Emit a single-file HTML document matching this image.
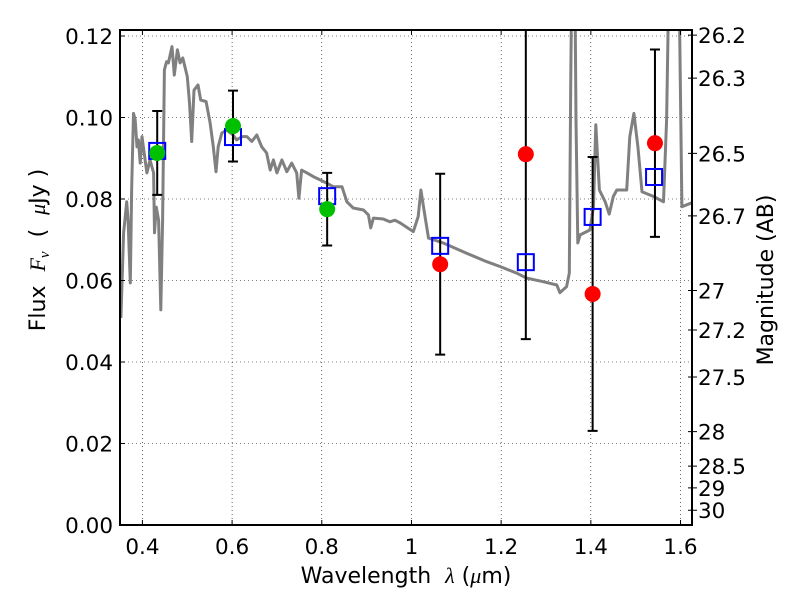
<!DOCTYPE html>
<html><head><meta charset="utf-8"><style>
html,body{margin:0;padding:0;background:#fff;}
svg{display:block;font-family:"DejaVu Sans","Liberation Sans",sans-serif;}
text{white-space:pre;}
</style></head><body>
<svg id="chart" width="800" height="600" viewBox="0 0 800 600" xmlns="http://www.w3.org/2000/svg">
<rect x="0" y="0" width="800" height="600" fill="#fff"/>
<defs><clipPath id="plotclip"><rect x="120" y="30" width="572" height="495"/></clipPath></defs>
<g id="grid"></g>
<g id="series" clip-path="url(#plotclip)"></g>
<g id="axes"></g>
</svg>
<script>
const xTicks=[0.4,0.6,0.8,1.0,1.2,1.4,1.6];
const xTickLabels=["0.4","0.6","0.8","1","1.2","1.4","1.6"];
const yTicks=[0,0.02,0.04,0.06,0.08,0.10,0.12];
const yTickLabels=["0.00","0.02","0.04","0.06","0.08","0.10","0.12"];
const magTicks=[26.2,26.3,26.5,26.7,27,27.2,27.5,28,28.5,29,30];
const magTickLabels=["26.2","26.3","26.5","26.7","27","27.2","27.5","28","28.5","29","30"];
const specWave=[0.352,0.358,0.361,0.365,0.368,0.373,0.376,0.380,0.384,0.388,0.391,0.395,0.399,0.406,0.410,0.417,0.425,0.427,0.431,0.436,0.441,0.445,0.449,0.454,0.458,0.466,0.471,0.478,0.484,0.490,0.500,0.505,0.510,0.515,0.524,0.530,0.542,0.551,0.558,0.564,0.569,0.577,0.588,0.602,0.610,0.622,0.633,0.644,0.655,0.666,0.677,0.685,0.692,0.700,0.711,0.722,0.733,0.744,0.749,0.755,0.767,0.781,0.796,0.811,0.826,0.845,0.856,0.870,0.893,0.904,0.909,0.915,0.937,0.952,0.963,0.975,1.004,1.015,1.021,1.028,1.038,1.071,1.123,1.168,1.198,1.235,1.257,1.294,1.324,1.331,1.346,1.352,1.355,1.358,1.364,1.367,1.371,1.376,1.398,1.406,1.411,1.419,1.432,1.441,1.450,1.458,1.469,1.480,1.487,1.496,1.505,1.514,1.540,1.562,1.569,1.575,1.596,1.603,1.626];
const specFlux=[0.0508,0.0717,0.0748,0.0793,0.0748,0.0594,0.0830,0.1010,0.0994,0.0928,0.0945,0.0888,0.0953,0.0896,0.0864,0.0896,0.0864,0.0717,0.0780,0.0748,0.0528,0.0748,0.1117,0.1137,0.1134,0.1174,0.1104,0.1166,0.1134,0.1146,0.1100,0.1036,0.0941,0.1067,0.1080,0.1043,0.1039,0.0987,0.0928,0.0867,0.0928,0.0962,0.0969,0.0957,0.0945,0.0953,0.0953,0.0941,0.0957,0.0928,0.0913,0.0871,0.0896,0.0864,0.0896,0.0867,0.0888,0.0864,0.0802,0.0871,0.0864,0.0855,0.0847,0.0839,0.0830,0.0830,0.0793,0.0778,0.0773,0.0761,0.0729,0.0753,0.0751,0.0744,0.0748,0.0741,0.0720,0.0757,0.0822,0.0773,0.0704,0.0692,0.0667,0.0646,0.0634,0.0618,0.0606,0.0597,0.0589,0.0570,0.0585,0.0618,0.1076,0.14,0.14,0.0994,0.0692,0.0712,0.0724,0.0781,0.0982,0.0822,0.0793,0.0763,0.0806,0.0822,0.0822,0.0822,0.0953,0.1010,0.0928,0.0818,0.0806,0.0793,0.0994,0.14,0.14,0.0781,0.0791];
const modelWave=[0.433,0.602,0.812,1.064,1.255,1.404,1.541];
const modelFlux=[0.0918,0.0952,0.0807,0.0685,0.0645,0.0756,0.0854];
const detWave=[0.433,0.602,0.812];
const detFlux=[0.0913,0.0979,0.0775];
const detErr=[0.0103,0.0087,0.0089];
const ndWave=[1.064,1.255,1.404,1.543];
const ndFlux=[0.0640,0.0910,0.0567,0.0937];
const ndErr=[0.0222,0.0454,0.0336,0.0230];

const NS="http://www.w3.org/2000/svg";
const L=120,R=692,T=30,B=525,XMIN=0.35,XMAX=1.6256,YMIN=0,YMAX=0.12147;
function xs(v){return L+(v-XMIN)/(XMAX-XMIN)*(R-L);}
function ys(v){return B-(v-YMIN)/(YMAX-YMIN)*(B-T);}
function mag2flux(m){return Math.pow(10,(23.9-m)/2.5);}
function mk(tag,attrs,parent){const e=document.createElementNS(NS,tag);for(const k in attrs)e.setAttribute(k,attrs[k]);parent.appendChild(e);return e;}
const grid=document.getElementById('grid'),series=document.getElementById('series'),axes=document.getElementById('axes');

xTicks.forEach((t,i)=>{
  const g=mk('line',{x1:xs(t),x2:xs(t),y1:T,y2:B,stroke:'#000','stroke-width':0.6,'stroke-dasharray':'1,3'},grid);
  
  
  const tk=mk('path',{d:`M${xs(t)},${B}v-5M${xs(t)},${T}v5`,stroke:'#000','stroke-width':1},axes);
  
  
  const lb=mk('text',{x:xs(t),y:B+29,'text-anchor':'middle','font-size':21.5,fill:'#000'},axes);
  lb.textContent=xTickLabels[i];
  
  
});
yTicks.forEach((t,i)=>{
  const g=mk('line',{x1:L,x2:R,y1:ys(t),y2:ys(t),stroke:'#000','stroke-width':0.6,'stroke-dasharray':'1,3'},grid);
  
  
  const tk=mk('path',{d:`M${L},${ys(t)}h5`,stroke:'#000','stroke-width':1},axes);
  
  
  const lb=mk('text',{x:L-7,y:ys(t)+8,'text-anchor':'end','font-size':21.5,fill:'#000'},axes);
  lb.textContent=yTickLabels[i];
  
  
});
magTicks.forEach((m,i)=>{
  const y=ys(mag2flux(m));
  const tk=mk('path',{d:`M${R},${y}h5M${R},${y}h-4`,stroke:'#000','stroke-width':1},axes);
  
  
  const lb=mk('text',{x:R+6,y:y+8,'text-anchor':'start','font-size':21.5,fill:'#000'},axes);
  lb.textContent=magTickLabels[i];
  
  
});

let d='';
specWave.forEach((w,i)=>{d+=(i?'L':'M')+xs(w).toFixed(1)+','+ys(specFlux[i]).toFixed(1);});
const sp=mk('path',{d:d,fill:'none',stroke:'#808080','stroke-width':3,'stroke-linejoin':'round'},series);



function errbar(w,f,e){
  const x=xs(w),y1=ys(f+e),y2=ys(f-e);
  const p=mk('path',{d:`M${x},${y1}V${y2}M${x-5},${y1}h10M${x-5},${y2}h10`,stroke:'#000','stroke-width':2},series);
  
  
}
detWave.forEach((w,i)=>errbar(w,detFlux[i],detErr[i]));
ndWave.forEach((w,i)=>errbar(w,ndFlux[i],ndErr[i]));
modelWave.forEach((w,i)=>{
  const r=mk('rect',{x:xs(w)-8,y:ys(modelFlux[i])-8,width:16,height:16,fill:'none',stroke:'#0000ff','stroke-width':2},series);
  
  
});
detWave.forEach((w,i)=>{
  const c=mk('circle',{cx:xs(w),cy:ys(detFlux[i]),r:8,fill:'#00c000'},series);
  
  
});
ndWave.forEach((w,i)=>{
  const c=mk('circle',{cx:xs(w),cy:ys(ndFlux[i]),r:8,fill:'#ff0000'},series);
  
  
});

const fr=mk('rect',{x:L,y:T,width:R-L,height:B-T,fill:'none',stroke:'#000','stroke-width':2},axes);


const xl=mk('text',{x:(L+R)/2,y:583,'text-anchor':'middle','font-size':22,fill:'#000'},axes);
xl.innerHTML='Wavelength  <tspan font-style="italic" font-family="Liberation Serif, serif">λ</tspan> (<tspan font-style="italic" font-family="Liberation Serif, serif">μ</tspan>m)';


const yl=mk('text',{x:0,y:0,'text-anchor':'middle','font-size':22,fill:'#000',transform:'translate(45,250) rotate(-90)'},axes);
yl.innerHTML='Flux  <tspan font-style="italic" font-family="Liberation Serif, serif">F<tspan font-size="15" dy="4">ν</tspan></tspan><tspan dy="-4">  (  </tspan><tspan font-style="italic" font-family="Liberation Serif, serif">μ</tspan>Jy )';


const ml=mk('text',{x:0,y:0,'text-anchor':'middle','font-size':22,fill:'#000',transform:'translate(773,280) rotate(-90)'},axes);
ml.textContent='Magnitude (AB)';


</script>
</body></html>
